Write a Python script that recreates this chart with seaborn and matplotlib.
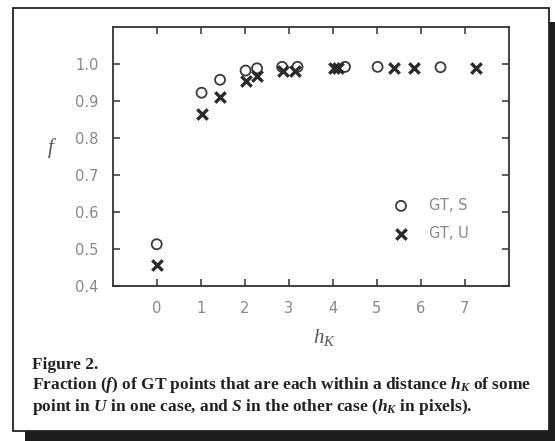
import numpy as np
import pandas as pd
import matplotlib
matplotlib.use("Agg")
import matplotlib.pyplot as plt
import seaborn as sns
from matplotlib.patches import Rectangle

# values
hk_s = [0.0, 1.02, 1.44, 2.02, 2.28, 2.85, 3.2, 4.28, 5.02, 6.45]
f_s = [0.513, 0.923, 0.958, 0.983, 0.989, 0.993, 0.993, 0.993, 0.993, 0.992]
hk_u = [0.0, 1.02, 1.44, 2.02, 2.28, 2.87, 3.15, 4.03, 4.13, 5.4, 5.85, 7.26]
f_u = [0.458, 0.865, 0.912, 0.955, 0.969, 0.981, 0.981, 0.99, 0.99, 0.991, 0.991, 0.991]
xticks = [0, 1, 2, 3, 4, 5, 6, 7]
yticks = [0.4, 0.5, 0.6, 0.7, 0.8, 0.9, 1.0]

sns.set_style("ticks")
plt.rcParams["font.family"] = ["DejaVu Sans"]
plt.rcParams["mathtext.fontset"] = "custom"
plt.rcParams["mathtext.rm"] = "Liberation Serif"
plt.rcParams["mathtext.it"] = "Liberation Serif:italic"
plt.rcParams["mathtext.bf"] = "Liberation Serif:bold"
plt.rcParams["mathtext.bfit"] = "Liberation Serif:bold:italic"

W, H = 555, 441
fig = plt.figure(figsize=(W / 100, H / 100), dpi=100)

# shadow + bordered panel
fig.patches.append(Rectangle((25 / W, -0.02), 1.0, 1 - 22 / H + 0.02, transform=fig.transFigure,
                             facecolor="#1c1c1c", edgecolor="none", zorder=0))
fig.patches.append(Rectangle((13 / W, 1 - 431 / H), (549 - 13) / W, (431 - 7.5) / H,
                             transform=fig.transFigure, facecolor="white",
                             edgecolor="#222222", linewidth=1.3, zorder=1))

ax = fig.add_axes([112.7 / W, 1 - 286 / H, (508.7 - 112.7) / W, (286 - 27.3) / H])
ax.set_zorder(2)

df_s = pd.DataFrame({"hk": hk_s, "f": f_s})
df_u = pd.DataFrame({"hk": hk_u, "f": f_u})
sns.scatterplot(data=df_s, x="hk", y="f", ax=ax, marker="o", s=52,
                facecolors="none", edgecolor="#3a3a3a", linewidth=1.3, label="GT, S")
sns.scatterplot(data=df_u, x="hk", y="f", ax=ax, marker="x", s=56,
                color="#2a2a2a", linewidth=2.4, label="GT, U")

ax.set_xlim(-1, 8)
ax.set_ylim(0.4, 1.1)
ax.set_xticks(xticks)
ax.set_yticks(yticks)
ax.set_xticklabels([str(t) for t in xticks])
ax.set_yticklabels([f"{t:.1f}" for t in yticks])
ax.tick_params(direction="in", length=5, width=1.1, color="#333333",
               top=True, right=True, labelsize=10.5, labelcolor="#888888")
ax.tick_params(axis="x", pad=11)
ax.tick_params(axis="y", pad=10)
for sp in ax.spines.values():
    sp.set_color("#333333")
    sp.set_linewidth(1.3)

ax.set_xlabel(r"$h_K$", fontsize=15, color="#555555")
ax.set_ylabel(r"$f$", fontsize=15, color="#555555", rotation=0)
ax.xaxis.set_label_coords((324 - 112.7) / (508.7 - 112.7), -(338 - 286) / (286 - 27.3))
ax.xaxis.label.set_va("center")
ax.yaxis.set_label_coords(-(112.7 - 52) / (508.7 - 112.7), (286 - 160) / (286 - 27.3))

ax.legend(loc="upper left", bbox_to_anchor=(393.7 / W, 1 - 197.7 / H),
          bbox_transform=fig.transFigure, frameon=False, fontsize=10.5,
          handlelength=1.0, handletextpad=1.4, labelspacing=0.9,
          borderpad=0, borderaxespad=0, labelcolor="#888888")

cap = dict(family="Liberation Serif", weight="bold", color="#222222", fontsize=12.5,
           va="baseline", ha="left", zorder=3)
fig.text(32 / W, 1 - 369 / H, "Figure 2.", **cap)
fig.text(32 / W, 1 - 389 / H,
         r"Fraction ($\mathbfit{f}$) of GT points that are each within a distance "
         r"$\mathbfit{h}_{\mathbfit{K}}$ of some", **cap)
fig.text(32 / W, 1 - 411 / H,
         r"point in $\mathbfit{U}$ in one case, and $\mathbfit{S}$ in the other case "
         r"($\mathbfit{h}_{\mathbfit{K}}$ in pixels).", **cap)

fig.savefig("out.png", dpi=100, facecolor="white")
